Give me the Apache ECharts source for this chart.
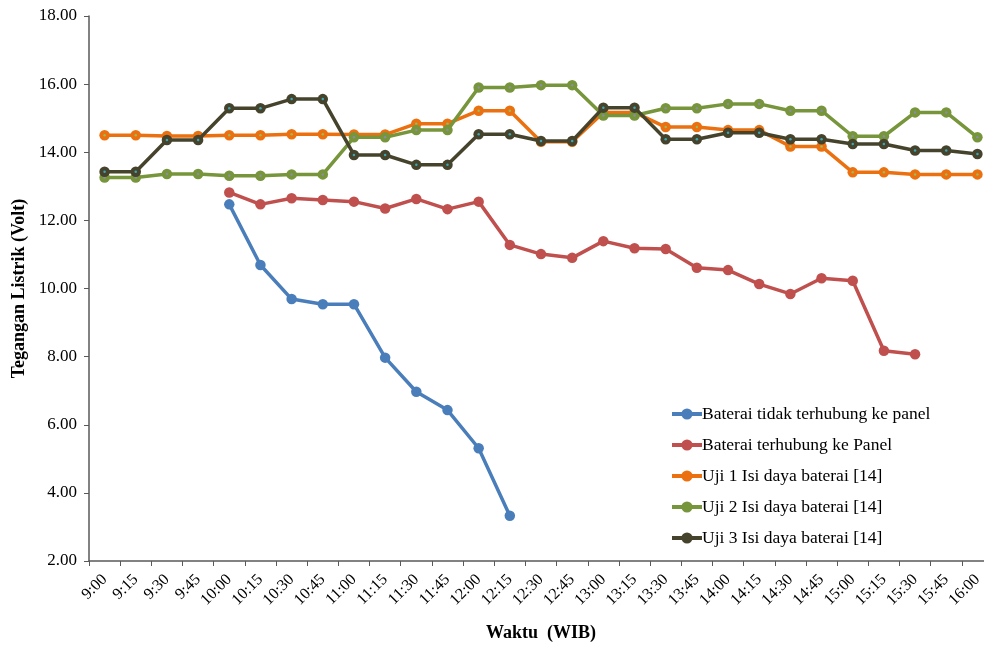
<!DOCTYPE html>
<html>
<head>
<meta charset="utf-8">
<script src="https://cdn.jsdelivr.net/npm/echarts@6/dist/echarts.min.js"></script>
<style>
  html, body { margin: 0; padding: 0; background: #fff; }
  #chart { width: 984px; height: 646px; }
</style>
</head>
<body>
<div id="chart"></div>
<script>
// Time of day (WIB), 15-minute steps
const times = ['9:00','9:15','9:30','9:45','10:00','10:15','10:30','10:45','11:00','11:15','11:30','11:45',
  '12:00','12:15','12:30','12:45','13:00','13:15','13:30','13:45','14:00','14:15','14:30','14:45',
  '15:00','15:15','15:30','15:45','16:00'];

// Battery voltage (Volt)
const bateraiTidakTerhubung = [null,null,null,null,12.47,10.69,9.69,9.54,9.54,7.97,6.97,6.43,5.31,3.33];
const bateraiTerhubung = [null,null,null,null,12.82,12.47,12.65,12.60,12.55,12.35,12.63,12.33,12.55,11.28,
  11.01,10.90,11.39,11.18,11.16,10.61,10.54,10.13,9.84,10.30,10.23,8.17,8.07];
const uji1 = [14.50,14.50,14.48,14.48,14.50,14.50,14.53,14.53,14.52,14.52,14.84,14.84,15.22,15.22,
  14.31,14.31,15.17,15.17,14.74,14.74,14.65,14.65,14.17,14.17,13.41,13.41,13.35,13.35,13.35];
const uji2 = [13.26,13.26,13.36,13.36,13.31,13.31,13.35,13.35,14.44,14.44,14.65,14.65,15.90,15.90,
  15.97,15.97,15.08,15.08,15.29,15.29,15.42,15.42,15.22,15.22,14.47,14.47,15.17,15.17,14.44];
const uji3 = [13.43,13.43,14.36,14.36,15.29,15.29,15.56,15.56,13.92,13.92,13.63,13.63,14.53,14.53,
  14.33,14.33,15.31,15.31,14.38,14.38,14.57,14.57,14.38,14.38,14.24,14.24,14.05,14.05,13.95];

const seriesNames = ['Baterai tidak terhubung ke panel','Baterai terhubung ke Panel',
  'Uji 1 Isi daya baterai [14]','Uji 2 Isi daya baterai [14]','Uji 3 Isi daya baterai [14]'];
const colors = ['#4A7EBB','#C0504D','#EB700F','#77953A','#46432C'];
const dotColors = [null, null, '#9BBB59', '#8C8CA0', '#3BA6B6'];
const datasets = [bateraiTidakTerhubung, bateraiTerhubung, uji1, uji2, uji3];

const FONT = 'Liberation Serif';

const chart = echarts.init(document.getElementById('chart'));

const series = [];
datasets.forEach((d, i) => {
  series.push({
    name: seriesNames[i],
    type: 'line',
    data: d,
    symbol: 'circle',
    symbolSize: 10.5,
    showSymbol: true,
    connectNulls: false,
    lineStyle: { width: 3.5, color: colors[i] },
    itemStyle: { color: colors[i] },
    emphasis: { disabled: true },
    z: 2 + i
  });
});
// small centre dots on the three "Uji" markers
datasets.forEach((d, i) => {
  if (!dotColors[i]) return;
  series.push({
    type: 'line',
    data: d,
    symbol: 'circle',
    symbolSize: 2.5,
    lineStyle: { width: 0, opacity: 0 },
    itemStyle: { color: dotColors[i] },
    silent: true,
    emphasis: { disabled: true },
    z: 2 + i
  });
});

chart.setOption({
  animation: false,
  backgroundColor: '#fff',
  textStyle: { fontFamily: FONT },
  grid: { left: 89, top: 16, width: 904, height: 545, outerBoundsMode: 'none', containLabel: false },
  legend: {
    data: seriesNames,
    orient: 'vertical',
    left: 665,
    top: 400,
    itemGap: 13,
    itemWidth: 30,
    itemHeight: 14,
    lineStyle: { width: 4 },
    textStyle: { fontFamily: FONT, fontSize: 17.5, color: '#000', padding: [0,0,0,-5] }
  },
  xAxis: {
    type: 'category',
    data: times,
    boundaryGap: true,
    name: 'Waktu  (WIB)',
    nameLocation: 'middle',
    nameGap: 63,
    nameTextStyle: { fontFamily: FONT, fontSize: 18, fontWeight: 'bold', color: '#000' },
    axisLine: { lineStyle: { color: '#595959', width: 1.5 } },
    axisTick: { show: true, alignWithLabel: false, length: 5, lineStyle: { color: '#595959' } },
    axisLabel: { rotate: 45, fontFamily: FONT, fontSize: 16, color: '#000', margin: 16, interval: 0 },
    splitLine: { show: false }
  },
  yAxis: {
    type: 'value',
    min: 2,
    max: 18,
    interval: 2,
    name: 'Tegangan Listrik (Volt)',
    nameLocation: 'middle',
    nameGap: 60,
    nameTextStyle: { fontFamily: FONT, fontSize: 18, fontWeight: 'bold', color: '#000' },
    axisLine: { show: true, lineStyle: { color: '#595959', width: 1.5 } },
    axisTick: { show: true, length: 5, lineStyle: { color: '#595959' } },
    axisLabel: { fontFamily: FONT, fontSize: 17, color: '#000', margin: 12, formatter: v => v.toFixed(2) },
    splitLine: { show: false }
  },
  series: series
});
</script>
</body>
</html>
